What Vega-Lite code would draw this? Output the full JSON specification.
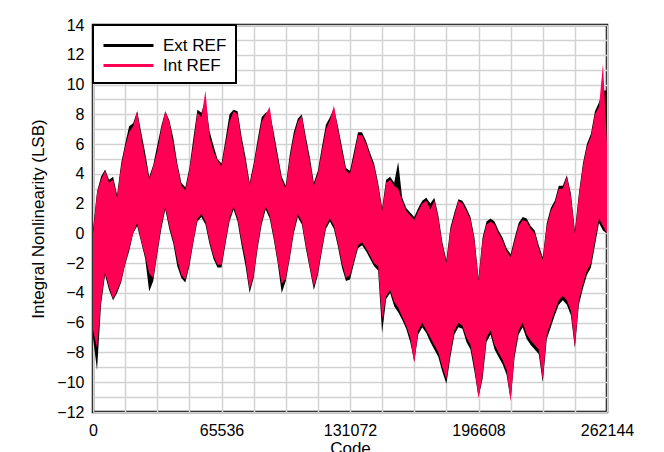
{
  "$schema": "https://vega.github.io/schema/vega-lite/v6.json",
  "width": 514,
  "height": 387,
  "autosize": {"type": "none"},
  "padding": {"left": 93, "top": 25, "right": 57, "bottom": 40},
  "background": "white",
  "config": {
    "font": "Liberation Sans",
    "view": {"stroke": "black", "strokeWidth": 2.5},
    "axis": {
      "labelFont": "Liberation Sans",
      "titleFont": "Liberation Sans",
      "labelFontSize": 16,
      "titleFontSize": 17,
      "titleFontWeight": "normal",
      "labelColor": "black",
      "titleColor": "black",
      "ticks": false,
      "domain": false,
      "labelOverlap": false,
      "gridColor": "#d2d2d2",
      "gridWidth": 1.5,
      "gridOpacity": 1
    },
    "legend": {
      "orient": "top-left",
      "offset": 0,
      "padding": 9,
      "strokeColor": "black",
      "strokeWidth": 2,
      "fillColor": "white",
      "labelFont": "Liberation Sans",
      "labelFontSize": 17,
      "labelColor": "black",
      "symbolType": "M-2.5,0H2.5",
      "symbolSize": 400,
      "symbolStrokeWidth": 3,
      "symbolOffset": 15,
      "labelOffset": 23,
      "rowPadding": 0
    }
  },
  "data": {
    "values": [
      {"code": 0, "hiE": 0.3, "loE": -7.0, "hiI": 0.0, "loI": -6.5},
      {"code": 2048, "hiE": 2.8, "loE": -9.2, "hiI": 2.7, "loI": -7.7},
      {"code": 4096, "hiE": 3.8, "loE": -4.8, "hiI": 3.6, "loI": -4.5},
      {"code": 6144, "hiE": 4.3, "loE": -2.8, "hiI": 4.2, "loI": -2.6},
      {"code": 8192, "hiE": 3.6, "loE": -3.8, "hiI": 3.4, "loI": -3.6},
      {"code": 10240, "hiE": 3.8, "loE": -4.5, "hiI": 3.6, "loI": -4.4},
      {"code": 12288, "hiE": 2.6, "loE": -4.0, "hiI": 2.4, "loI": -3.8},
      {"code": 14336, "hiE": 4.7, "loE": -3.3, "hiI": 4.5, "loI": -3.2},
      {"code": 16384, "hiE": 6.0, "loE": -2.1, "hiI": 5.8, "loI": -2.0},
      {"code": 18432, "hiE": 7.2, "loE": -1.2, "hiI": 6.8, "loI": -1.0},
      {"code": 20480, "hiE": 7.4, "loE": 0.0, "hiI": 7.2, "loI": 0.0},
      {"code": 22528, "hiE": 8.2, "loE": 0.5, "hiI": 8.2, "loI": 0.7},
      {"code": 24576, "hiE": 6.8, "loE": -0.6, "hiI": 6.5, "loI": -0.5},
      {"code": 26624, "hiE": 5.4, "loE": -1.7, "hiI": 5.0, "loI": -1.5},
      {"code": 28672, "hiE": 3.8, "loE": -3.9, "hiI": 3.6, "loI": -2.7},
      {"code": 30720, "hiE": 4.6, "loE": -3.2, "hiI": 4.5, "loI": -3.0},
      {"code": 32768, "hiE": 5.9, "loE": -1.4, "hiI": 5.5, "loI": -1.2},
      {"code": 34816, "hiE": 7.2, "loE": 0.3, "hiI": 7.0, "loI": 0.5},
      {"code": 36864, "hiE": 8.2, "loE": 1.6, "hiI": 8.2, "loI": 1.8},
      {"code": 38912, "hiE": 7.6, "loE": 0.3, "hiI": 7.5, "loI": 0.5},
      {"code": 40960, "hiE": 6.4, "loE": -0.7, "hiI": 6.0, "loI": -0.5},
      {"code": 43008, "hiE": 4.7, "loE": -2.2, "hiI": 4.5, "loI": -1.8},
      {"code": 45056, "hiE": 3.4, "loE": -3.0, "hiI": 3.2, "loI": -2.8},
      {"code": 47104, "hiE": 3.1, "loE": -3.3, "hiI": 2.9, "loI": -3.1},
      {"code": 49152, "hiE": 4.4, "loE": -2.2, "hiI": 4.2, "loI": -2.0},
      {"code": 51200, "hiE": 6.4, "loE": -0.6, "hiI": 6.0, "loI": -0.5},
      {"code": 53248, "hiE": 8.3, "loE": 0.8, "hiI": 8.1, "loI": 1.0},
      {"code": 55296, "hiE": 8.1, "loE": 1.1, "hiI": 7.8, "loI": 1.3},
      {"code": 57344, "hiE": 9.0, "loE": 0.6, "hiI": 9.6, "loI": 0.8},
      {"code": 59392, "hiE": 6.9, "loE": -0.7, "hiI": 6.5, "loI": -0.5},
      {"code": 61440, "hiE": 5.9, "loE": -1.7, "hiI": 5.5, "loI": -1.5},
      {"code": 63488, "hiE": 5.0, "loE": -2.3, "hiI": 4.9, "loI": -2.1},
      {"code": 65536, "hiE": 4.7, "loE": -2.3, "hiI": 4.5, "loI": -2.1},
      {"code": 67584, "hiE": 6.3, "loE": -0.7, "hiI": 6.0, "loI": -0.5},
      {"code": 69632, "hiE": 8.0, "loE": 0.8, "hiI": 7.5, "loI": 1.0},
      {"code": 71680, "hiE": 8.3, "loE": 1.6, "hiI": 8.2, "loI": 1.8},
      {"code": 73728, "hiE": 8.2, "loE": 0.8, "hiI": 8.0, "loI": 1.0},
      {"code": 75776, "hiE": 6.5, "loE": -0.8, "hiI": 6.2, "loI": -0.5},
      {"code": 77824, "hiE": 5.1, "loE": -2.2, "hiI": 4.8, "loI": -1.8},
      {"code": 79872, "hiE": 3.4, "loE": -4.0, "hiI": 3.2, "loI": -3.8},
      {"code": 81920, "hiE": 4.7, "loE": -3.0, "hiI": 4.5, "loI": -2.8},
      {"code": 83968, "hiE": 6.3, "loE": -1.0, "hiI": 6.0, "loI": -0.8},
      {"code": 86016, "hiE": 7.8, "loE": 0.6, "hiI": 7.5, "loI": 0.8},
      {"code": 88064, "hiE": 8.1, "loE": 1.6, "hiI": 8.0, "loI": 1.8},
      {"code": 90112, "hiE": 8.2, "loE": 1.0, "hiI": 8.5, "loI": 1.2},
      {"code": 92160, "hiE": 6.8, "loE": -0.4, "hiI": 6.5, "loI": -0.2},
      {"code": 94208, "hiE": 5.3, "loE": -2.0, "hiI": 5.0, "loI": -1.8},
      {"code": 96256, "hiE": 3.8, "loE": -4.0, "hiI": 3.6, "loI": -3.4},
      {"code": 98304, "hiE": 3.2, "loE": -3.2, "hiI": 3.0, "loI": -3.0},
      {"code": 100352, "hiE": 5.3, "loE": -1.7, "hiI": 5.0, "loI": -1.5},
      {"code": 102400, "hiE": 6.8, "loE": 0.0, "hiI": 6.5, "loI": 0.2},
      {"code": 104448, "hiE": 7.7, "loE": 1.1, "hiI": 7.5, "loI": 1.3},
      {"code": 106496, "hiE": 8.0, "loE": 0.6, "hiI": 7.9, "loI": 0.8},
      {"code": 108544, "hiE": 6.5, "loE": -1.0, "hiI": 6.2, "loI": -0.8},
      {"code": 110592, "hiE": 5.1, "loE": -2.4, "hiI": 4.8, "loI": -2.2},
      {"code": 112640, "hiE": 3.4, "loE": -3.8, "hiI": 3.2, "loI": -3.6},
      {"code": 114688, "hiE": 4.2, "loE": -2.8, "hiI": 4.0, "loI": -2.6},
      {"code": 116736, "hiE": 5.8, "loE": -1.2, "hiI": 5.5, "loI": -1.0},
      {"code": 118784, "hiE": 7.3, "loE": 0.3, "hiI": 7.0, "loI": 0.5},
      {"code": 120832, "hiE": 7.8, "loE": 0.8, "hiI": 7.6, "loI": 1.0},
      {"code": 122880, "hiE": 8.4, "loE": 0.3, "hiI": 8.6, "loI": 0.5},
      {"code": 124928, "hiE": 7.2, "loE": -0.9, "hiI": 7.0, "loI": -0.7},
      {"code": 126976, "hiE": 5.8, "loE": -2.3, "hiI": 5.5, "loI": -2.0},
      {"code": 129024, "hiE": 4.4, "loE": -3.2, "hiI": 4.2, "loI": -3.0},
      {"code": 131072, "hiE": 4.2, "loE": -3.1, "hiI": 4.0, "loI": -2.8},
      {"code": 133120, "hiE": 5.5, "loE": -2.0, "hiI": 5.2, "loI": -1.8},
      {"code": 135168, "hiE": 6.8, "loE": -1.0, "hiI": 6.6, "loI": -0.8},
      {"code": 137216, "hiE": 6.8, "loE": -0.8, "hiI": 6.6, "loI": -0.6},
      {"code": 139264, "hiE": 6.2, "loE": -1.2, "hiI": 6.0, "loI": -1.0},
      {"code": 141312, "hiE": 5.4, "loE": -1.7, "hiI": 5.2, "loI": -1.5},
      {"code": 143360, "hiE": 4.7, "loE": -2.2, "hiI": 4.5, "loI": -2.0},
      {"code": 145408, "hiE": 3.4, "loE": -2.5, "hiI": 3.2, "loI": -2.2},
      {"code": 147456, "hiE": 1.7, "loE": -6.7, "hiI": 1.5, "loI": -5.8},
      {"code": 149504, "hiE": 3.6, "loE": -4.4, "hiI": 3.4, "loI": -4.2},
      {"code": 151552, "hiE": 3.8, "loE": -4.0, "hiI": 3.6, "loI": -3.8},
      {"code": 153600, "hiE": 3.4, "loE": -4.9, "hiI": 3.2, "loI": -4.6},
      {"code": 155648, "hiE": 4.8, "loE": -5.3, "hiI": 3.0, "loI": -5.0},
      {"code": 157696, "hiE": 2.4, "loE": -5.8, "hiI": 2.2, "loI": -5.6},
      {"code": 159744, "hiE": 1.7, "loE": -6.4, "hiI": 1.5, "loI": -6.2},
      {"code": 161792, "hiE": 1.4, "loE": -7.3, "hiI": 1.2, "loI": -7.0},
      {"code": 163840, "hiE": 1.1, "loE": -8.6, "hiI": 0.9, "loI": -8.7},
      {"code": 165888, "hiE": 1.7, "loE": -6.8, "hiI": 1.5, "loI": -6.5},
      {"code": 167936, "hiE": 2.2, "loE": -6.3, "hiI": 2.0, "loI": -6.0},
      {"code": 169984, "hiE": 2.4, "loE": -6.7, "hiI": 2.2, "loI": -6.5},
      {"code": 172032, "hiE": 2.0, "loE": -7.3, "hiI": 1.6, "loI": -7.0},
      {"code": 174080, "hiE": 2.4, "loE": -7.8, "hiI": 2.2, "loI": -7.5},
      {"code": 176128, "hiE": 1.2, "loE": -8.3, "hiI": 1.0, "loI": -8.0},
      {"code": 178176, "hiE": -0.6, "loE": -9.3, "hiI": -0.8, "loI": -9.0},
      {"code": 180224, "hiE": -1.8, "loE": -10.1, "hiI": -2.0, "loI": -9.8},
      {"code": 182272, "hiE": 0.4, "loE": -8.3, "hiI": 0.2, "loI": -8.0},
      {"code": 184320, "hiE": 1.4, "loE": -6.8, "hiI": 1.2, "loI": -6.5},
      {"code": 186368, "hiE": 2.3, "loE": -6.3, "hiI": 2.2, "loI": -6.0},
      {"code": 188416, "hiE": 2.2, "loE": -6.4, "hiI": 2.0, "loI": -6.2},
      {"code": 190464, "hiE": 1.7, "loE": -7.3, "hiI": 1.5, "loI": -7.0},
      {"code": 192512, "hiE": 1.1, "loE": -7.8, "hiI": 0.9, "loI": -7.5},
      {"code": 194560, "hiE": -0.3, "loE": -9.3, "hiI": -0.5, "loI": -9.0},
      {"code": 196608, "hiE": -3.0, "loE": -11.0, "hiI": -3.2, "loI": -11.1},
      {"code": 198656, "hiE": -0.3, "loE": -9.8, "hiI": -0.5, "loI": -9.5},
      {"code": 200704, "hiE": 0.8, "loE": -7.3, "hiI": 0.6, "loI": -7.0},
      {"code": 202752, "hiE": 1.0, "loE": -6.8, "hiI": 0.8, "loI": -6.5},
      {"code": 204800, "hiE": 0.8, "loE": -7.8, "hiI": 0.6, "loI": -7.5},
      {"code": 206848, "hiE": 0.2, "loE": -8.3, "hiI": 0.0, "loI": -8.0},
      {"code": 208896, "hiE": -0.3, "loE": -8.8, "hiI": -0.5, "loI": -8.5},
      {"code": 210944, "hiE": -1.0, "loE": -9.5, "hiI": -1.2, "loI": -9.2},
      {"code": 212992, "hiE": -1.4, "loE": -11.2, "hiI": -1.6, "loI": -11.3},
      {"code": 215040, "hiE": -0.3, "loE": -8.3, "hiI": -0.5, "loI": -8.0},
      {"code": 217088, "hiE": 0.7, "loE": -6.8, "hiI": 0.5, "loI": -6.5},
      {"code": 219136, "hiE": 1.1, "loE": -6.3, "hiI": 0.9, "loI": -6.0},
      {"code": 221184, "hiE": 1.0, "loE": -7.1, "hiI": 0.8, "loI": -6.8},
      {"code": 223232, "hiE": 0.5, "loE": -7.5, "hiI": 0.3, "loI": -7.2},
      {"code": 225280, "hiE": 0.2, "loE": -7.8, "hiI": 0.0, "loI": -7.5},
      {"code": 227328, "hiE": -0.8, "loE": -8.1, "hiI": -1.0, "loI": -7.8},
      {"code": 229376, "hiE": -1.6, "loE": -10.0, "hiI": -1.8, "loI": -9.8},
      {"code": 231424, "hiE": 0.7, "loE": -7.1, "hiI": 0.5, "loI": -6.8},
      {"code": 233472, "hiE": 1.7, "loE": -6.3, "hiI": 1.5, "loI": -6.0},
      {"code": 235520, "hiE": 2.2, "loE": -5.5, "hiI": 2.0, "loI": -5.2},
      {"code": 237568, "hiE": 3.2, "loE": -4.8, "hiI": 3.0, "loI": -4.5},
      {"code": 239616, "hiE": 3.2, "loE": -4.5, "hiI": 3.0, "loI": -4.2},
      {"code": 241664, "hiE": 3.9, "loE": -4.8, "hiI": 3.8, "loI": -4.5},
      {"code": 243712, "hiE": 2.7, "loE": -5.5, "hiI": 2.5, "loI": -5.2},
      {"code": 245760, "hiE": 0.2, "loE": -7.7, "hiI": 0.0, "loI": -7.6},
      {"code": 247808, "hiE": 2.7, "loE": -4.8, "hiI": 2.5, "loI": -4.5},
      {"code": 249856, "hiE": 4.7, "loE": -3.7, "hiI": 4.5, "loI": -3.4},
      {"code": 251904, "hiE": 6.0, "loE": -2.8, "hiI": 5.8, "loI": -2.5},
      {"code": 253952, "hiE": 6.7, "loE": -2.3, "hiI": 6.5, "loI": -2.0},
      {"code": 256000, "hiE": 8.2, "loE": -0.8, "hiI": 8.0, "loI": -0.5},
      {"code": 258048, "hiE": 8.8, "loE": 0.7, "hiI": 8.5, "loI": 1.0},
      {"code": 260096, "hiE": 9.6, "loE": 0.2, "hiI": 11.4, "loI": 0.5},
      {"code": 262144, "hiE": 9.6, "loE": 0.0, "hiI": 6.0, "loI": 0.0}
    ]
  },
  "encoding": {
    "x": {
      "field": "code",
      "type": "quantitative",
      "scale": {"domain": [0, 262144], "nice": false},
      "axis": {
        "values": [0, 16384, 32768, 49152, 65536, 81920, 98304, 114688, 131072, 147456, 163840, 180224, 196608, 212992, 229376, 245760, 262144],
        "labelExpr": "datum.value % 65536 === 0 ? format(datum.value, 'd') : ''",
        "labelFlush": false,
        "labelOverlap": false,
        "labelPadding": 10,
        "title": "Code",
        "titlePadding": 2
      }
    }
  },
  "layer": [
    {
      "mark": {"type": "area", "interpolate": "linear"},
      "encoding": {
        "y": {
          "field": "hiE",
          "type": "quantitative",
          "scale": {"domain": [-12, 14], "nice": false, "zero": false},
          "title": "Integral Nonlinearity (LSB)",
          "axis": {
            "values": [-12, -11, -10, -9, -8, -7, -6, -5, -4, -3, -2, -1, 0, 1, 2, 3, 4, 5, 6, 7, 8, 9, 10, 11, 12, 13, 14],
            "labelExpr": "datum.value % 2 === 0 ? format(datum.value, 'd') : ''",
            "labelOverlap": false,
            "labelPadding": 9,
            "titlePadding": 9
          }
        },
        "y2": {"field": "loE"},
        "color": {
          "datum": "Ext REF",
          "type": "nominal",
          "scale": {"domain": ["Ext REF", "Int REF"], "range": ["#000000", "#FF0055"]},
          "legend": {
            "title": null,
            "encode": {
              "symbols": {
                "update": {
                  "stroke": {"scale": "color", "field": "value"},
                  "strokeWidth": {"value": 3}
                }
              }
            }
          }
        }
      }
    },
    {
      "mark": {"type": "area", "interpolate": "linear"},
      "encoding": {
        "y": {
          "field": "hiI",
          "type": "quantitative",
          "title": "Integral Nonlinearity (LSB)",
          "axis": {
            "values": [-12, -11, -10, -9, -8, -7, -6, -5, -4, -3, -2, -1, 0, 1, 2, 3, 4, 5, 6, 7, 8, 9, 10, 11, 12, 13, 14],
            "labelExpr": "datum.value % 2 === 0 ? format(datum.value, 'd') : ''",
            "labelOverlap": false,
            "labelPadding": 9,
            "titlePadding": 9
          }
        },
        "y2": {"field": "loI"},
        "color": {"datum": "Int REF", "type": "nominal"}
      }
    }
  ]
}
